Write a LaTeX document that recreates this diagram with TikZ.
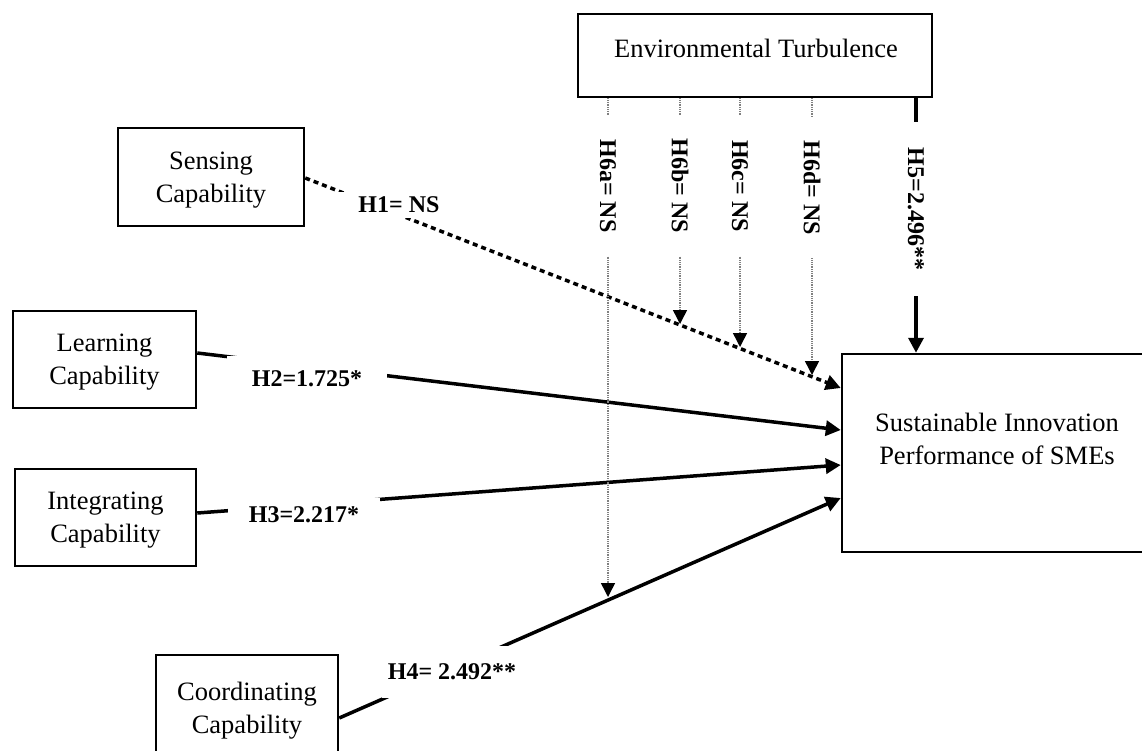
\documentclass[tikz,border=0pt]{standalone}
\usepackage{fontspec}
\setmainfont{Liberation Serif}
\usetikzlibrary{arrows.meta,calc}
\begin{document}
\begin{tikzpicture}[x=1pt,y=-1pt,
  box/.style={draw,line width=2.5pt,inner sep=0pt,align=center,text depth=-4pt,font=\fontsize{26.5}{33}\selectfont},
  txt/.style={inner sep=0pt,align=center,font=\fontsize{26.5}{33}\selectfont},
  lab/.style={fill=white,inner sep=0pt,font=\bfseries\fontsize{24}{28}\selectfont},
  rel/.style={line width=3.5pt,-{Triangle[width=15pt,length=15pt]}},
  nsrel/.style={line width=3.5pt,dash pattern=on 5pt off 4pt,-{Triangle[width=15pt,length=15pt]}},
  modrel/.style={line width=1.5pt,gray,dash pattern=on 1pt off 0.8pt,-{Triangle[width=14pt,length=14pt,black]}}]
\useasboundingbox (0,0) rectangle (1142,750);

% boxes
\node[box,minimum width=354pt,minimum height=83pt] (ET) at (755,55.5) {};
\node[txt] (ETt) at (756,48) {Environmental Turbulence};
\node[box,minimum width=186pt,minimum height=98pt] (S) at (211,177) {Sensing\\Capability};
\node[box,minimum width=183pt,minimum height=97pt] (L) at (104.5,359.5) {Learning\\Capability};
\node[box,minimum width=181pt,minimum height=97pt] (I) at (105.5,517.5) {Integrating\\Capability};
\node[box,minimum width=182pt,minimum height=106pt] (C) at (247,708) {Coordinating\\Capability};
\node[box,minimum width=318pt,minimum height=198pt] (SIP) at (1001,453) {};
\node[txt] (SIPt) at (997,438.5) {Sustainable Innovation\\Performance of SMEs};

% moderation targets
\coordinate (m6a) at (608,597);
\coordinate (m6b) at (680,324);
\coordinate (m6c) at (740,347);
\coordinate (m6d) at (812,375);
\coordinate (m5) at (916,0);

% main paths
\draw[nsrel] (S.east |- 0,178) -- (SIP.west |- 0,388);
\draw[rel] (L.east |- 0,353) -- (SIP.west |- 0,430);
\draw[rel] (I.east |- 0,513) -- (SIP.west |- 0,465);
\draw[rel] (C.east |- 0,718) -- (SIP.west |- 0,498);
\draw[rel] (ET.south -| m5) -- (SIP.north -| m5);

% moderation paths
\draw[modrel] (ET.south -| m6a) -- (m6a);
\draw[modrel] (ET.south -| m6b) -- (m6b);
\draw[modrel] (ET.south -| m6c) -- (m6c);
\draw[modrel] (ET.south -| m6d) -- (m6d);

% labels
\node[lab,minimum width=124pt,minimum height=26pt] (h1) at (399,205) {H1= NS};
\node[lab,minimum width=160pt,minimum height=46pt] (h2) at (307,379) {H2=1.725*};
\node[lab,minimum width=152pt,minimum height=34pt] (h3) at (304,515) {H3=2.217*};
\node[lab,minimum width=140pt,minimum height=52pt] (h4) at (452,672) {H4= 2.492**};
\node[lab,rotate=-90,minimum width=140pt,minimum height=28pt] (h6a) at (608,186) {H6a= NS};
\node[lab,rotate=-90,minimum width=140pt,minimum height=28pt] (h6b) at (680,186) {H6b= NS};
\node[lab,rotate=-90,minimum width=140pt,minimum height=28pt] (h6c) at (740,186) {H6c= NS};
\node[lab,rotate=-90,minimum width=140pt,minimum height=28pt] (h6d) at (812,188) {H6d= NS};
\node[lab,rotate=-90,minimum width=174pt,minimum height=28pt] (h5) at (916,209) {H5=2.496**};
\end{tikzpicture}
\end{document}
